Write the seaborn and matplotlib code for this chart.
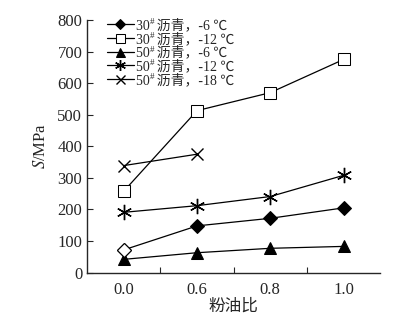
import matplotlib
matplotlib.use("Agg")
import matplotlib.pyplot as plt
from matplotlib.transforms import IdentityTransform
import seaborn as sns
import pandas as pd

# 粉油比 (categorical x) and stiffness S/MPa
ratios = ["0.0", "0.6", "0.8", "1.0"]
s_30_m6 = [72, 148, 172, 205]
s_30_m12 = [258, 513, 570, 675]
s_50_m6 = [42, 63, 77, 83]
s_50_m12 = [191, 212, 241, 308]
s_50_m18 = [339, 375]

grades = ["30", "30", "50", "50", "50"]
temps = ["-6 ℃", "-12 ℃", "-6 ℃", "-12 ℃", "-18 ℃"]
# the "#" after the grade is added as a superscript after drawing
labels = [g + "\u2002沥青，" + t for g, t in zip(grades, temps)]

sns.set_style("ticks")
plt.rcParams['font.family'] = ['Liberation Serif', 'Noto Sans CJK SC']
plt.rcParams['mathtext.fontset'] = 'stix'
plt.rcParams['xtick.direction'] = 'in'
plt.rcParams['ytick.direction'] = 'in'

series = [
    (s_30_m6, dict(marker="D", markersize=7, markerfacecolor="black")),
    (s_30_m12, dict(marker="s", markersize=9, markerfacecolor="white")),
    (s_50_m6, dict(marker="^", markersize=9, markerfacecolor="black")),
    (s_50_m12, dict(marker=(6, 2, 0), markersize=11, markeredgewidth=1.0)),
    (s_50_m18, dict(marker="x", markersize=9, markeredgewidth=1.0)),
]

fig = plt.figure(figsize=(4.15, 3.23), dpi=100)
ax = fig.add_axes([0.21, 0.156, 0.706, 0.782])

for (vals, style), lab in zip(series, labels):
    df = pd.DataFrame({"x": range(len(vals)), "S": vals})
    sns.lineplot(data=df, x="x", y="S", ax=ax, color="black", linewidth=0.9,
                 markeredgecolor="black", label=lab, **style)

# first point of the -6 ℃ 30# series is drawn hollow in the source
ax.plot([0], [s_30_m6[0]], linestyle="none", marker="D", markersize=7,
        markerfacecolor="white", markeredgecolor="black", markeredgewidth=0.8)

ax.set_xlim(-0.5, 3.5)
ax.set_ylim(0, 800)
ax.set_xticks(range(len(ratios)))
ax.set_xticklabels(ratios)
ax.set_xticks([0.5, 1.5, 2.5], minor=True)
ax.tick_params(axis="x", which="major", length=0, labelsize=12, pad=7)
ax.tick_params(axis="x", which="minor", length=4, width=0.8)
ax.tick_params(axis="y", labelsize=12, length=4, width=0.8)
ax.set_yticks(range(0, 801, 100))
sns.despine(ax=ax)
for sp in ax.spines.values():
    sp.set_linewidth(1.0)

ax.set_xlabel("粉油比", fontsize=12, labelpad=0)
ax.set_ylabel("$S$/MPa", fontsize=12, labelpad=6)

leg = ax.legend(loc="upper left", bbox_to_anchor=(0.04, 1.04), frameon=False,
                prop={"size": 10}, handlelength=1.9, handletextpad=0.15,
                labelspacing=0.0, borderaxespad=0.2, markerscale=0.72)

# superscript "#" marks in the legend
fig.canvas.draw()
r = fig.canvas.get_renderer()
for t, g in zip(leg.get_texts(), grades):
    bb = t.get_window_extent(r)
    tmp = fig.text(0, 0, g, fontproperties=t.get_fontproperties())
    w = tmp.get_window_extent(r).width
    tmp.remove()
    fig.text(bb.x0 + w, bb.y0 + bb.height * 0.42, "#", fontsize=6.5,
             transform=IdentityTransform(), va="bottom", ha="left")

fig.savefig("out.png", dpi=100)
